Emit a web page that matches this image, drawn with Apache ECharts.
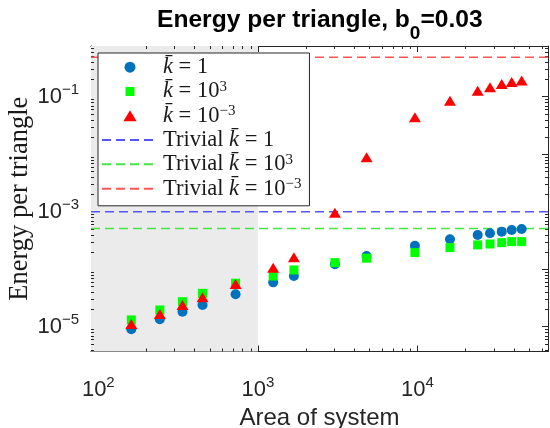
<!DOCTYPE html>
<html>
<head>
<meta charset="utf-8">
<script src="https://cdn.jsdelivr.net/npm/echarts@6/dist/echarts.min.js"></script>
<style>
  html, body { margin: 0; padding: 0; background: #fff; }
  #chart { width: 550px; height: 428px; }
</style>
</head>
<body>
<div id="chart"></div>
<script>
// system areas (x) and energy per triangle for each k-bar
var areas = [161, 243, 337, 450, 725, 1247, 1682, 3040, 4800, 9640, 15990, 23850, 28500, 33750, 38970, 45000];
var energyK1 = [9.0e-6, 1.35e-5, 1.82e-5, 2.38e-5, 3.66e-5, 5.9e-5, 7.6e-5, 1.22e-4, 1.7e-4, 2.56e-4, 3.31e-4, 3.94e-4, 4.21e-4, 4.49e-4, 4.8e-4, 5.0e-4];
var energyK1e3 = [1.31e-5, 1.95e-5, 2.72e-5, 3.8e-5, 5.7e-5, 7.6e-5, 9.7e-5, 1.3e-4, 1.55e-4, 1.94e-4, 2.37e-4, 2.64e-4, 2.74e-4, 2.89e-4, 3.01e-4, 3.01e-4];
var energyK1em3 = [1.11e-5, 1.66e-5, 2.38e-5, 3.24e-5, 5.5e-5, 1.06e-4, 1.61e-4, 9.6e-4, 8.8e-3, 0.0438, 0.0851, 0.127, 0.146, 0.166, 0.180, 0.190];
// trivial energies (horizontal reference lines)
var trivialK1 = 1.0e-3;
var trivialK1e3 = 5.1e-4;
var trivialK1em3 = 0.484;
// shaded region ends here
var shadeEnd = 1000;

var xMin = 90, xMax = 65800;
var yMin = 3.7e-6, yMax = 0.76;

var axisColor = '#262626';
var clear = 'rgba(0,0,0,0)';

function pairs(xs, ys) {
  var out = [];
  for (var i = 0; i < xs.length; i++) out.push([xs[i], ys[i]]);
  return out;
}

// minor ticks at 2..9 x 10^k
function minorTicks(lo, hi) {
  var t = [];
  for (var e = Math.floor(Math.log10(lo)); e <= Math.ceil(Math.log10(hi)); e++) {
    for (var m = 2; m <= 9; m++) {
      var v = m * Math.pow(10, e);
      if (v > lo && v < hi) t.push(v);
    }
  }
  return t;
}
var xMinor = minorTicks(xMin, xMax);
var yMinor = minorTicks(yMin, yMax);

function powLabel(v, onlyOdd) {
  var l = Math.log10(v);
  var e = Math.round(l);
  if (Math.abs(l - e) > 1e-6) return '';
  if (onlyOdd && Math.abs(e) % 2 !== 1) return '';
  return '{b|10}{e|' + String(e).replace('-', '\u2212') + '}';
}

var tickRich = {
  b: { fontFamily: 'Liberation Sans', fontSize: 22, color: axisColor, lineHeight: 28, verticalAlign: 'middle' },
  e: { fontFamily: 'Liberation Sans', fontSize: 15, color: axisColor, lineHeight: 28, verticalAlign: 'top' }
};

var legendNames = {
  k1: '{k|k\u0304} = 1',
  k1e3: '{k|k\u0304} = 10{s|3}',
  k1em3: '{k|k\u0304} = 10{s|\u22123}',
  t1: 'Trivial {k|k\u0304} = 1',
  t1e3: 'Trivial {k|k\u0304} = 10{s|3}',
  t1em3: 'Trivial {k|k\u0304} = 10{s|\u22123}'
};

var chart = echarts.init(document.getElementById('chart'));

var option = {
  animation: false,
  backgroundColor: '#fff',
  title: {
    text: '{a|Energy per triangle, b}{s|0}{a|=0.03}',
    left: 157,
    top: -2.5,
    padding: 0,
    textStyle: {
      rich: {
        a: { fontFamily: 'Liberation Sans', fontWeight: 'bold', fontSize: 24.6, color: '#000', lineHeight: 46, verticalAlign: 'middle' },
        s: { fontFamily: 'Liberation Sans', fontWeight: 'bold', fontSize: 19, color: '#000', lineHeight: 46, verticalAlign: 'bottom' }
      }
    }
  },
  grid: { left: 91, right: 2, top: 46, bottom: 76.5, outerBoundsMode: 'none' },
  legend: {
    orient: 'vertical',
    left: 98,
    top: 53,
    padding: [2, 8, 5, 3],
    itemWidth: 56,
    itemHeight: 11,
    itemGap: 0,
    backgroundColor: '#fff',
    borderColor: axisColor,
    borderWidth: 1,
    borderRadius: 0,
    data: [
      { name: 'k1' },
      { name: 'k1e3', icon: 'path://M0,0L10,0L10,10L0,10Z', itemStyle: { borderColor: '#fff', borderWidth: 2 } },
      { name: 'k1em3', icon: 'path://M6,0L12,10L0,10Z' },
      { name: 't1', itemStyle: { color: clear, opacity: 0 } },
      { name: 't1e3', itemStyle: { color: clear, opacity: 0 } },
      { name: 't1em3', itemStyle: { color: clear, opacity: 0 } }
    ],
    formatter: function (name) { return legendNames[name]; },
    textStyle: {
      fontFamily: 'Liberation Serif',
      fontSize: 22.5,
      color: '#1a1a1a',
      lineHeight: 24.3,
      rich: {
        k: { fontFamily: 'Liberation Serif', fontStyle: 'italic', fontSize: 22.5, color: '#1a1a1a', lineHeight: 24.3 },
        s: { fontFamily: 'Liberation Serif', fontSize: 15, color: '#1a1a1a', lineHeight: 24.3, verticalAlign: 'top' }
      }
    }
  },
  xAxis: [
    {
      type: 'log', min: xMin, max: xMax, logBase: 10,
      name: 'Area of system', nameLocation: 'middle', nameGap: 55, nameMoveOverlap: false,
      nameTextStyle: { fontFamily: 'Liberation Sans', fontSize: 24, color: axisColor },
      axisLine: { show: true, lineStyle: { color: axisColor, width: 1 } },
      axisTick: { show: true, inside: true, length: 6, lineStyle: { color: axisColor } },
      axisLabel: { margin: 24, formatter: function (v) { return powLabel(v, false); }, rich: tickRich },
      splitLine: { show: false }
    },
    {
      type: 'log', min: xMin, max: xMax, logBase: 10, position: 'top',
      axisLine: { show: true, lineStyle: { color: axisColor, width: 1 } },
      axisTick: { show: true, inside: true, length: 6, lineStyle: { color: axisColor } },
      axisLabel: { show: false },
      splitLine: { show: false }
    }
  ],
  yAxis: [
    {
      type: 'log', min: yMin, max: yMax, logBase: 10,
      name: 'Energy per triangle', nameLocation: 'middle', nameGap: 57, nameRotate: 90, nameMoveOverlap: false,
      nameTextStyle: { fontFamily: 'Liberation Serif', fontSize: 26.5, color: '#1a1a1a' },
      axisLine: { show: true, lineStyle: { color: axisColor, width: 1 } },
      axisTick: { show: true, inside: true, length: 6, lineStyle: { color: axisColor } },
      axisLabel: { margin: 12, formatter: function (v) { return powLabel(v, true); }, rich: tickRich },
      splitLine: { show: false }
    },
    {
      type: 'log', min: yMin, max: yMax, logBase: 10, position: 'right',
      axisLine: { show: true, lineStyle: { color: axisColor, width: 1 } },
      axisTick: { show: true, inside: true, length: 6, lineStyle: { color: axisColor } },
      axisLabel: { show: false },
      splitLine: { show: false }
    }
  ],
  series: [
    {
      name: 'shade', type: 'scatter', data: [], z: 0, silent: true,
      markArea: {
        silent: true,
        itemStyle: { color: '#ebebeb' },
        data: [[{ xAxis: xMin }, { xAxis: shadeEnd }]]
      }
    },
    {
      name: 'minor', type: 'custom', silent: true, z: 1,
      data: [[xMin * 2, yMin * 2]],
      renderItem: function (params, api) {
        var cs = params.coordSys;
        var kids = [];
        var yRef = yMin * 2, xRef = xMin * 2;
        xMinor.forEach(function (v) {
          var px = Math.round(api.coord([v, yRef])[0]) + 0.5;
          kids.push({ type: 'line', shape: { x1: px, y1: cs.y + cs.height, x2: px, y2: cs.y + cs.height - 3 }, style: { stroke: axisColor, lineWidth: 1 } });
          kids.push({ type: 'line', shape: { x1: px, y1: cs.y, x2: px, y2: cs.y + 3 }, style: { stroke: axisColor, lineWidth: 1 } });
        });
        yMinor.forEach(function (v) {
          var py = Math.round(api.coord([xRef, v])[1]) + 0.5;
          kids.push({ type: 'line', shape: { x1: cs.x, y1: py, x2: cs.x + 3, y2: py }, style: { stroke: axisColor, lineWidth: 1 } });
          kids.push({ type: 'line', shape: { x1: cs.x + cs.width, y1: py, x2: cs.x + cs.width - 3, y2: py }, style: { stroke: axisColor, lineWidth: 1 } });
        });
        return { type: 'group', children: kids };
      }
    },
    {
      name: 't1', type: 'line', symbol: 'none', z: 2,
      data: [[xMin, trivialK1], [xMax, trivialK1]],
      lineStyle: { color: '#5555ff', width: 1.5, type: [9, 5] },
      itemStyle: { color: clear }
    },
    {
      name: 't1e3', type: 'line', symbol: 'none', z: 2,
      data: [[xMin, trivialK1e3], [xMax, trivialK1e3]],
      lineStyle: { color: '#44e644', width: 1.5, type: [9, 5] },
      itemStyle: { color: clear }
    },
    {
      name: 't1em3', type: 'line', symbol: 'none', z: 2,
      data: [[xMin, trivialK1em3], [xMax, trivialK1em3]],
      lineStyle: { color: '#ff5555', width: 1.5, type: [9, 5] },
      itemStyle: { color: clear }
    },
    {
      name: 'k1', type: 'scatter', symbol: 'circle', symbolSize: 10, z: 3,
      data: pairs(areas, energyK1),
      itemStyle: { color: '#0072bd', opacity: 1 }
    },
    {
      name: 'k1e3', type: 'scatter', symbol: 'rect', symbolSize: 9, z: 3,
      data: pairs(areas, energyK1e3),
      itemStyle: { color: '#00ff00', opacity: 1 }
    },
    {
      name: 'k1em3', type: 'scatter', symbol: 'triangle', symbolSize: [12, 10], z: 3,
      data: pairs(areas, energyK1em3),
      itemStyle: { color: '#ff0000', opacity: 1 }
    }
  ]
};

chart.setOption(option);
</script>
</body>
</html>
